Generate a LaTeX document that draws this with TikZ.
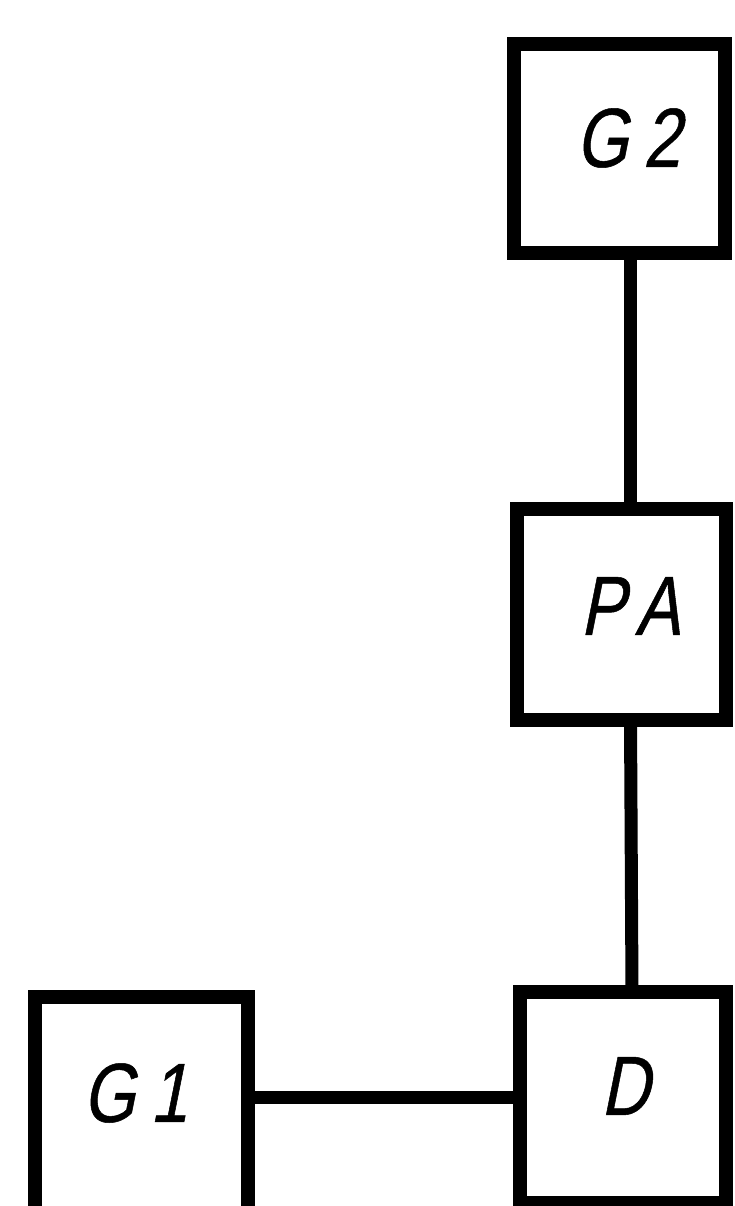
\documentclass[tikz,border=0pt]{standalone}
\usepackage{fontspec}
\newfontfamily\lblfont{Liberation Sans}[FakeStretch=0.8,FakeSlant=0.2,FakeBold=0.6,LetterSpace=18]
\begin{document}
\begin{tikzpicture}[x=1pt,y=-1pt,
  box/.style={draw=black,line width=14pt,rectangle,inner sep=0pt,outer sep=0pt},
  wire/.style={draw=black,line width=13pt},
  lbl/.style={font=\lblfont\fontsize{84}{90}\selectfont,inner sep=0pt}]
\clip (0,0) rectangle (734,1206);
\node[box,minimum width=211pt,minimum height=209pt] (g2) at (619.5,148.5) {};
\node[box,minimum width=209pt,minimum height=211pt] (pa) at (621.5,614.5) {};
\node[box,minimum width=206pt,minimum height=211pt] (d) at (623,1097.5) {};
\node[box,minimum width=213pt,minimum height=228pt] (g1) at (141.5,1111) {};
\node[lbl] (g2t) at (628,138) {G2};
\node[lbl] (pat) at (630,606) {PA};
\node[lbl] (dt) at (625,1086) {D};
\node[lbl] (g1t) at (135,1093) {G1};
\draw[wire] ([xshift=11pt]g2.south) -- ([xshift=9pt]pa.north);
\draw[wire] ([xshift=9pt]pa.south) -- ([xshift=9pt]d.north);
\draw[wire] (g1.east |- d.west) -- (d.west);
\end{tikzpicture}
\end{document}
